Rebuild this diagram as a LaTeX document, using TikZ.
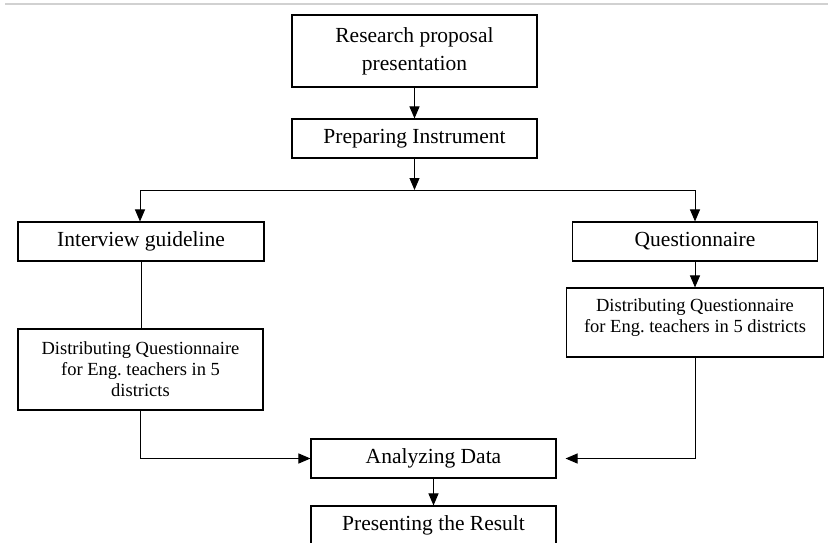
\documentclass[tikz,border=0pt]{standalone}
\usepackage{fontspec}
\setmainfont{Liberation Serif}
\usetikzlibrary{arrows.meta}
\tikzset{
  flowbox/.style={draw, line width=1.1pt, minimum width=245pt, minimum height=39pt, inner sep=0pt, align=center, font=\fontsize{21.5}{28}\selectfont},
  distbox/.style={flowbox, font=\fontsize{18.5}{21}\selectfont},
  flowline/.style={line width=1pt},
  flowarrow/.style={flowline, -{Triangle[length=12pt,width=10pt]}},
}

\begin{document}
\begin{tikzpicture}[x=1pt, y=-1pt]
    \useasboundingbox (0,0) rectangle (828,543);
    \draw[black!18, line width=1.2pt] (5,4) -- (828,4);
    % top of the chart
    \node[flowbox, minimum height=72pt] (research) at (414.5,51) {Research proposal\\presentation};
    \node[flowbox] (prep) at (414.5,138.5) {Preparing Instrument};
    % two branches
    \node[flowbox, minimum width=246pt] (interview) at (141,241.5) {Interview guideline};
    \node[flowbox] (quest) at (695,241.5) {Questionnaire};
    \node[distbox, minimum height=81pt] (distL) at (140.5,369.5) {Distributing Questionnaire\\for Eng.\ teachers in 5\\districts};
    \node[distbox, minimum width=257pt, minimum height=69pt] (distR) at (695,322.5) {Distributing Questionnaire\\for Eng.\ teachers in 5 districts\\[-8pt]\mbox{}};
    % bottom of the chart
    \node[flowbox] (analyze) at (433.5,458.5) {Analyzing Data};
    \node[flowbox] (result) at (433.5,525.5) {Presenting the Result};
    \coordinate (split) at (414.5,190);
    \coordinate (splitL) at (140,190);
    \coordinate (splitR) at (695,190);
    \draw[flowarrow] (research) -- (prep);
    \draw[flowarrow] (prep) -- (split);
    \draw[flowline] (splitL) -- (splitR);
    \draw[flowarrow] (splitL) -- (splitL |- interview.north);
    \draw[flowarrow] (splitR) -- (splitR |- quest.north);
    \draw[flowline] (interview.south) -- (interview.south |- distL.north);
    \draw[flowarrow] (quest) -- (distR);
    \draw[flowarrow] (distL.south) |- (analyze.west);
    \draw[flowarrow] (distR.south) |- ([xshift=9pt]analyze.east);
    \draw[flowarrow] (analyze) -- (result);
  \end{tikzpicture}
\end{document}
